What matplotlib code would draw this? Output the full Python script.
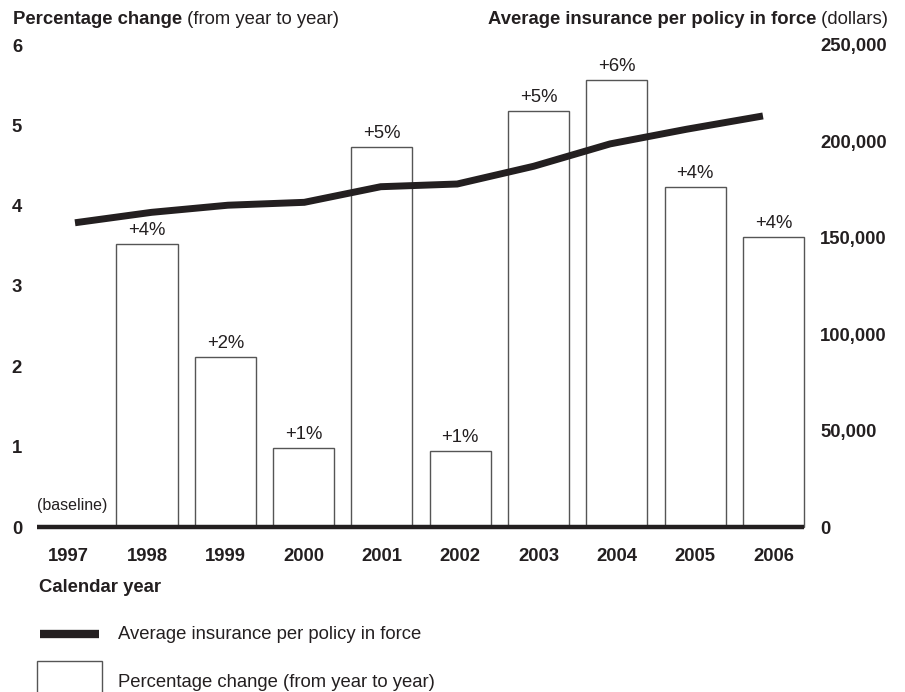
import matplotlib
matplotlib.use('Agg')
import matplotlib.pyplot as plt
from matplotlib.patches import Rectangle
from matplotlib.lines import Line2D
from matplotlib.ticker import FuncFormatter

plt.rcParams['font.family'] = ['Liberation Sans', 'DejaVu Sans']

# ---- data ----
years = ['1997', '1998', '1999', '2000', '2001', '2002', '2003', '2004', '2005', '2006']
pct_change = [None, 3.52, 2.11, 0.98, 4.73, 0.94, 5.18, 5.56, 4.23, 3.61]
pct_labels = ['', '+4%', '+2%', '+1%', '+5%', '+1%', '+5%', '+6%', '+4%', '+4%']
avg_insurance = [157800, 163200, 166900, 168400, 176500, 177900, 187100, 198700, 206300, 213200]
left_ticks = [0, 1, 2, 3, 4, 5, 6]
right_ticks = [0, 50000, 100000, 150000, 200000, 250000]

INK = '#231f20'
EDGE = '#555555'
FS = 13.3
W, H = 905, 692

fig = plt.figure(figsize=(W / 100, H / 100), dpi=100)

def fx(px):
    return px / W

def fy(py):
    return 1 - py / H

ax_left, ax_right, ax_top, ax_bot = 37.3, 804, 45, 527
pos = [fx(ax_left), fy(ax_bot), fx(ax_right) - fx(ax_left), (ax_bot - ax_top) / H]

ax = fig.add_axes(pos)
idx = list(range(len(years)))
bar_x = [i for i, v in zip(idx, pct_change) if v is not None]
bar_h = [v for v in pct_change if v is not None]
bars = ax.bar(bar_x, bar_h, width=0.78, facecolor='white', edgecolor=EDGE,
              linewidth=1.0, zorder=2)
for b in bars:
    b.set_clip_on(False)
for i, v, lab in zip(idx, pct_change, pct_labels):
    if v is None:
        continue
    ax.annotate(lab, xy=(i, v), xytext=(0, 6.5), textcoords='offset points',
                ha='center', va='baseline', fontsize=FS, color=INK)

ax.set_xlim(-0.401, 9.391)
ax.set_ylim(0, 6)
ax.set_xticks(idx)
ax.set_xticklabels(years, fontsize=FS, fontweight='bold', color=INK)
ax.set_yticks(left_ticks)
ax.set_yticklabels([str(t) for t in left_ticks], fontsize=FS, fontweight='bold', color=INK)
ax.tick_params(axis='x', length=0, pad=15)
ax.tick_params(axis='y', length=0, pad=11)
for s in ['top', 'right', 'left']:
    ax.spines[s].set_visible(False)
ax.spines['bottom'].set_linewidth(3.2)
ax.spines['bottom'].set_color(INK)
ax.spines['bottom'].set_capstyle('butt')
ax.spines['bottom'].set_zorder(5)

ax.annotate('(baseline)', xy=(0, 0), xycoords='axes fraction', xytext=(0, 12.3),
            textcoords='offset points', ha='left', va='baseline',
            fontsize=11.5, color=INK)

# line on its own axes (same vertical frame)
ax2 = fig.add_axes(pos)
ax2.patch.set_visible(False)
ax2.plot(idx, avg_insurance, color=INK, linewidth=5, solid_capstyle='butt',
         solid_joinstyle='miter', zorder=3)
ax2.set_xlim(-0.493, 9.537)
ax2.set_ylim(0, 250000)
ax2.set_xticks([])
ax2.yaxis.tick_right()
ax2.set_yticks(right_ticks)
ax2.yaxis.set_major_formatter(FuncFormatter(lambda v, p: f'{int(v):,}'))
ax2.tick_params(axis='y', length=0, pad=11.5, labelsize=FS, labelcolor=INK)
for lbl in ax2.get_yticklabels():
    lbl.set_fontweight('bold')
for s in ax2.spines.values():
    s.set_visible(False)

# titles
renderer = fig.canvas.get_renderer()
t1 = fig.text(fx(13.3), fy(24), 'Percentage change', fontsize=FS, fontweight='bold',
              color=INK, ha='left', va='baseline')
bb = t1.get_window_extent(renderer)
fig.text(bb.x1 / W, fy(24), ' (from year to year)', fontsize=FS, color=INK,
         ha='left', va='baseline')

t2 = fig.text(fx(888), fy(24), ' (dollars)', fontsize=FS, color=INK, ha='right', va='baseline')
bb2 = t2.get_window_extent(renderer)
fig.text(bb2.x0 / W, fy(24), 'Average insurance per policy in force', fontsize=FS,
         fontweight='bold', color=INK, ha='right', va='baseline')

fig.text(fx(39), fy(592), 'Calendar year', fontsize=FS, fontweight='bold', color=INK,
         ha='left', va='baseline')

# legend
fig.add_artist(Line2D([fx(40), fx(99.3)], [fy(634), fy(634)], color=INK, linewidth=6,
                      solid_capstyle='butt'))
fig.text(fx(118.3), fy(639), 'Average insurance per policy in force', fontsize=FS,
         color=INK, ha='left', va='baseline')
fig.add_artist(Rectangle((fx(37.3), fy(700)), fx(64.4), (700 - 661) / H,
                         facecolor='white', edgecolor=EDGE, linewidth=1.0,
                         transform=fig.transFigure))
fig.text(fx(118.3), fy(687), 'Percentage change (from year to year)', fontsize=FS,
         color=INK, ha='left', va='baseline')

fig.savefig('out.png', dpi=100)
